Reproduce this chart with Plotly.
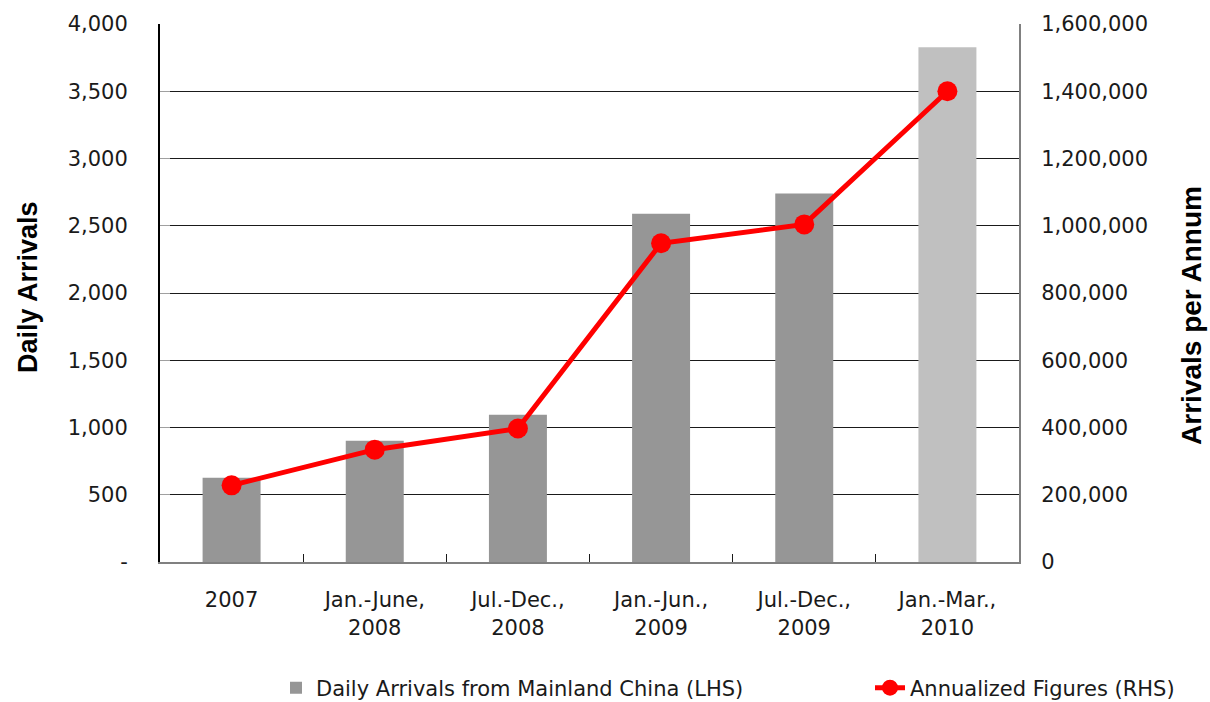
import plotly.graph_objects as go

# Periods shown on the category axis
periods = [
    "2007",
    "Jan.-June,<br>2008",
    "Jul.-Dec.,<br>2008",
    "Jan.-Jun.,<br>2009",
    "Jul.-Dec.,<br>2009",
    "Jan.-Mar.,<br>2010",
]

# Average daily arrivals from Mainland China (left axis)
daily_arrivals = [627, 901, 1094, 2590, 2739, 3827]

# Annualized arrivals (right axis)
annualized = [228000, 334000, 397000, 948000, 1004000, 1400000]

# Left axis tick values and labels
left_tickvals = [0, 500, 1000, 1500, 2000, 2500, 3000, 3500, 4000]
left_ticktext = ["-", "500", "1,000", "1,500", "2,000", "2,500", "3,000", "3,500", "4,000"]

# Right axis tick values and labels
right_tickvals = [0, 200000, 400000, 600000, 800000, 1000000, 1200000, 1400000, 1600000]
right_ticktext = ["0", "200,000", "400,000", "600,000", "800,000",
                  "1,000,000", "1,200,000", "1,400,000", "1,600,000"]

BAR_DARK = "#969696"
BAR_LIGHT = "#C0C0C0"
RED = "#FF0000"
TICK_FONT = dict(family="DejaVu Sans", size=21, color="#1a1a1a")
LEGEND_FONT = dict(family="DejaVu Sans", size=21, color="#1a1a1a")

# most recent (partial) period drawn in a lighter shade
bar_colors = [BAR_DARK] * (len(periods) - 1) + [BAR_LIGHT]

fig = go.Figure()

fig.add_trace(go.Bar(
    x=periods,
    y=daily_arrivals,
    name="Daily Arrivals from Mainland China (LHS)",
    marker=dict(color=bar_colors, line=dict(width=0)),
    yaxis="y",
    legend="legend",
))

fig.add_trace(go.Scatter(
    x=periods,
    y=annualized,
    name="Annualized Figures (RHS)",
    mode="lines+markers",
    line=dict(color=RED, width=5),
    marker=dict(color=RED, size=20),
    yaxis="y2",
    legend="legend2",
))

legend_common = dict(
    orientation="h",
    xref="container",
    yref="container",
    y=1 - 688 / 702,
    xanchor="left",
    yanchor="middle",
    font=LEGEND_FONT,
    bgcolor="rgba(0,0,0,0)",
)

fig.update_layout(
    width=1210,
    height=702,
    margin=dict(l=160, r=191, t=22, b=140),
    paper_bgcolor="white",
    plot_bgcolor="white",
    bargap=0.595,
    showlegend=True,
    legend=dict(legend_common, x=276 / 1210),
    legend2=dict(legend_common, x=870 / 1210),
    xaxis=dict(
        type="category",
        showline=True,
        linecolor="#808080",
        linewidth=2,
        ticks="inside",
        tickson="boundaries",
        ticklen=8,
        tickcolor="#1a1a1a",
        tickwidth=1,
        tickfont=TICK_FONT,
        ticklabelstandoff=18,
        showgrid=False,
        zeroline=False,
    ),
    yaxis=dict(
        range=[0, 4000],
        tickvals=left_tickvals,
        ticktext=left_ticktext,
        showgrid=True,
        gridcolor="#1a1a1a",
        gridwidth=1,
        showline=True,
        linecolor="#000000",
        linewidth=2,
        ticks="inside",
        ticklen=10,
        tickcolor="#a0a0a0",
        tickfont=TICK_FONT,
        ticklabelstandoff=26,
        zeroline=False,
    ),
    yaxis2=dict(
        range=[0, 1600000],
        tickvals=right_tickvals,
        ticktext=right_ticktext,
        overlaying="y",
        side="right",
        showgrid=False,
        showline=True,
        linecolor="#808080",
        linewidth=2,
        ticks="inside",
        ticklen=9,
        tickcolor="#1a1a1a",
        tickfont=TICK_FONT,
        ticklabelstandoff=16,
        zeroline=False,
    ),
    annotations=[
        dict(
            text="<b>Daily Arrivals</b>",
            xref="paper", yref="paper",
            x=0, y=(562 - 286) / 540,
            xshift=-132,
            xanchor="center", yanchor="middle",
            textangle=-90,
            showarrow=False,
            font=dict(family="Liberation Sans", size=27, color="#000000"),
        ),
        dict(
            text="<b>Arrivals per Annum</b>",
            xref="paper", yref="paper",
            x=1, y=(562 - 315) / 540,
            xshift=173,
            xanchor="center", yanchor="middle",
            textangle=-90,
            showarrow=False,
            font=dict(family="Liberation Sans", size=28, color="#000000"),
        ),
    ],
)

fig.write_html("out.html")
